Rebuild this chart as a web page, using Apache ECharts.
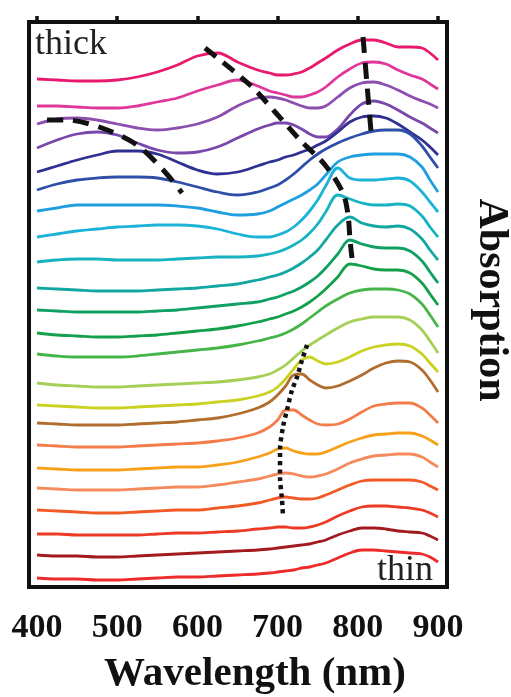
<!DOCTYPE html>
<html><head><meta charset="utf-8">
<script src="https://cdn.jsdelivr.net/npm/echarts@6/dist/echarts.min.js"></script>
<style>html,body{margin:0;padding:0;background:#fff}#c{width:511px;height:697px}</style>
</head><body><div id="c"></div>
<script>
// Wavelength sampling (nm)
const wavelengths = [400,425,450,475,500,525,550,575,600,625,650,675,690,700,710,720,730,740,750,760,775,790,805,820,835,850,865,880,890,900];
// Offset absorption spectra (a.u. x100), thick (top) to thin (bottom)
const spectrum01 = [508,507,506,506,507,510,515,522,531,534,525,517,514,512,512,513,515,519,524,529,537,543,547,547,544,540,540,539,534,527];
const spectrum02 = [481,481,480,479,479,481,485,489,496,502,507,501,496,494,492,490,490,492,495,500,510,518,524,525,523,517,512,508,503,498];
const spectrum03 = [463,468,469,467,463,459,457,459,463,470,481,489,490,489,487,484,481,479,479,481,490,499,504,505,502,497,491,486,483,479];
const spectrum04 = [439,447,453,455,452,444,437,434,435,440,449,458,462,464,464,462,458,453,450,450,458,472,483,486,483,477,470,464,459,454];
const spectrum05 = [415,421,427,432,436,436,433,425,417,413,415,421,425,427,430,432,435,438,442,446,455,465,470,471,469,463,455,447,440,432];
const spectrum06 = [397,403,407,409,410,410,409,405,400,395,392,395,399,402,407,413,420,427,433,438,444,449,453,456,457,457,453,441,430,419];
const spectrum07 = [376,379,382,382,382,382,382,381,379,375,372,373,376,380,384,388,392,397,403,412,425,430,432,433,433,433,430,420,407,395];
const spectrum08 = [350,353,356,358,360,361,362,362,361,358,353,350,350,352,355,360,367,376,387,401,419,409,407,407,408,409,406,395,385,375];
const spectrum09 = [325,327,328,328,327,327,327,328,329,330,330,331,333,335,338,342,347,354,363,375,392,388,384,382,382,383,381,371,360,350];
const spectrum10 = [299,298,297,296,296,296,297,298,299,301,303,307,310,312,315,319,324,330,337,347,362,370,364,361,360,361,358,348,337,327];
const spectrum11 = [277,276,275,275,275,275,276,277,279,281,283,285,288,290,293,296,300,305,311,319,333,347,343,340,339,339,336,326,315,304];
const spectrum12 = [254,252,251,250,250,251,252,254,256,258,261,265,268,270,273,276,280,285,291,298,310,323,321,318,317,317,314,304,293,282];
const spectrum13 = [233,231,230,230,230,231,233,235,237,239,242,246,249,251,254,258,263,269,275,281,288,294,297,298,298,297,293,283,272,260];
const spectrum14 = [204,202,201,200,200,201,202,203,204,205,207,210,213,217,222,229,236,242,247,252,259,265,268,270,270,270,267,257,246,234];
const spectrum15 = [182,181,180,179,179,180,181,182,183,185,187,191,195,200,208,218,227,230,226,223,225,230,236,240,242,243,241,233,224,215];
const spectrum16 = [164,163,162,162,162,163,164,165,167,169,173,179,185,192,201,212,213,207,202,199,201,206,212,219,224,226,225,217,207,195];
const spectrum17 = [142,141,140,140,140,141,142,143,144,146,149,154,160,167,177,177,172,167,163,162,163,168,175,181,183,184,184,179,172,164];
const spectrum18 = [119,118,117,117,117,118,119,120,120,122,125,130,134,138,139,136,134,133,133,135,140,145,149,152,153,154,154,151,147,142];
const spectrum19 = [99,98,97,97,97,98,99,100,100,102,105,108,111,113,114,113,111,110,111,113,118,124,128,131,132,133,133,130,125,120];
const spectrum20 = [77,76,75,74,74,75,76,77,77,79,81,84,87,89,90,89,88,88,89,92,97,102,106,107,107,107,107,105,101,97];
const spectrum21 = [53,53,52,52,52,52,53,54,54,55,56,58,59,60,60,59,59,60,62,65,71,76,80,81,81,80,79,77,74,70];
const spectrum22 = [32,31,31,30,30,31,32,33,34,35,36,37,38,39,40,41,42,43,45,47,52,56,59,59,58,56,55,54,51,47];
const spectrum23 = [9,8,8,7,7,8,9,10,10,11,12,13,14,15,16,17,19,20,22,24,29,34,37,37,36,35,34,33,30,25];
// Peak-shift guide lines [wavelength, value]
const guideMiddle = [[609.5,539],[665.6,502],[696.8,475],[727.9,447],[759.1,422],[781.5,394],[787.8,372],[790.3,347],[794,320]];
const guideLeft = [[412.5,467],[437.4,467],[481,459],[524.7,442],[559.6,415],[580.8,394]];
const guideRight = [[806.5,550],[811.5,502],[816.5,455]];
const guideDotted = [[736.7,242],[730.4,227],[724.2,210],[718,197],[711.7,177],[706.7,160],[703,137],[703,110],[705.5,87],[706.7,70]];
const tickValues = [400,500,600,700,800,900];

const spectra = [spectrum01,spectrum02,spectrum03,spectrum04,spectrum05,spectrum06,spectrum07,spectrum08,spectrum09,spectrum10,spectrum11,spectrum12,spectrum13,spectrum14,spectrum15,spectrum16,spectrum17,spectrum18,spectrum19,spectrum20,spectrum21,spectrum22,spectrum23];
const colors = ['#e8196e','#e0379b','#8c4fb0','#7848ac','#2f3192','#2d4fa8','#1f9fe0','#1bb3d8','#16b3c3','#12a7a2','#10a064','#14a04a','#45b549','#a5cf55','#c9d220','#b06d2e','#f47c4a','#f7a11a','#f58a5c','#f15a24','#ec3a24','#a2191e','#ee2a2a'];

const series = spectra.map((arr, i) => ({
  type: 'line', xAxisIndex: 0, yAxisIndex: 0,
  data: wavelengths.map((w, j) => [w, arr[j]]),
  showSymbol: false, smooth: 0.35, silent: true,
  lineStyle: { color: colors[i], width: 2.8 }
}));
function guide(data, type, width) {
  return { type: 'line', data: data, showSymbol: false, smooth: 0.3, silent: true, z: 5,
    lineStyle: { color: '#111', width: width, type: type } };
}
series.push(guide(guideMiddle, [14, 9], 5));
series.push(guide(guideLeft, [16, 10], 5));
series.push(guide(guideRight, [16, 10], 5));
series.push(guide(guideDotted, [4, 4], 4.5));

const chart = echarts.init(document.getElementById('c'), null, { renderer: 'canvas' });
chart.setOption({
  animation: false,
  backgroundColor: '#fff',
  grid: { left: 29, right: 64, top: 22, bottom: 110, show: true, borderColor: '#111', borderWidth: 4, backgroundColor: 'transparent' },
  xAxis: [{
    type: 'value', min: 390, max: 911.2, position: 'bottom',
    axisLine: { show: false }, axisTick: { show: false }, splitLine: { show: false },
    axisLabel: { customValues: tickValues, fontSize: 34, fontWeight: 'bold', fontFamily: 'Liberation Serif', color: '#111', margin: 24 }
  }, {
    type: 'value', min: 390, max: 911.2, position: 'top',
    axisLine: { show: false }, axisLabel: { show: false }, splitLine: { show: false },
    axisTick: { show: true, inside: false, length: 6, customValues: tickValues, lineStyle: { color: '#111', width: 3.5 } }
  }],
  yAxis: { type: 'value', min: 0, max: 565, show: false },
  graphic: [
    { type: 'text', x: 35, y: 45, style: { text: 'thick', fontSize: 36, fontFamily: 'Liberation Serif', fill: '#222', align: 'left', verticalAlign: 'middle' } },
    { type: 'text', x: 433, y: 571, style: { text: 'thin', fontSize: 36, fontFamily: 'Liberation Serif', fill: '#222', align: 'right', verticalAlign: 'middle' } },
    { type: 'text', x: 255, y: 674, style: { text: 'Wavelength (nm)', fontSize: 41, fontWeight: 'bold', fontFamily: 'Liberation Serif', fill: '#111', align: 'center', verticalAlign: 'middle' } },
    { type: 'text', x: 491, y: 300, rotation: -Math.PI / 2, style: { text: 'Absorption', fontSize: 42, fontWeight: 'bold', fontFamily: 'Liberation Serif', fill: '#111', align: 'center', verticalAlign: 'middle' } }
  ],
  series: series
});
</script>
</body></html>
